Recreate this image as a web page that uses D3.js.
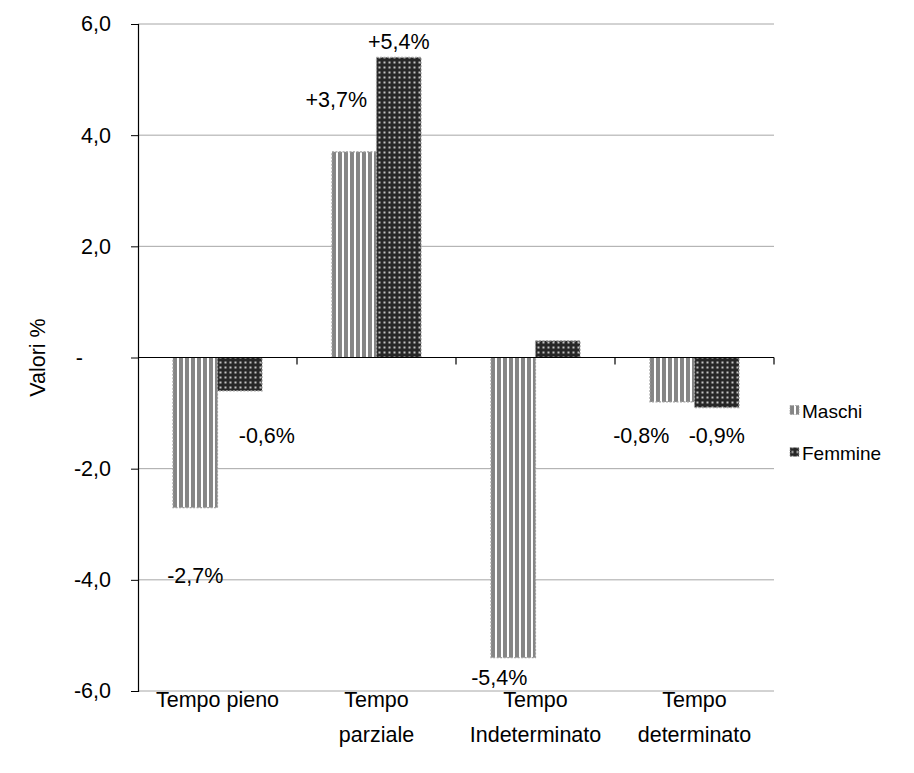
<!DOCTYPE html>
<html>
<head>
<meta charset="utf-8">
<script src="https://cdn.jsdelivr.net/npm/d3@7"></script>
<style>
  html, body { margin: 0; padding: 0; background: #fff; }
  svg { display: block; font-family: "Liberation Sans", Arial, sans-serif; }
</style>
</head>
<body>
<svg id="chart" width="914" height="773"></svg>
<script>
// Variazione percentuale degli occupati per tipo di contratto e sesso
const categories = [["Tempo pieno"], ["Tempo", "parziale"], ["Tempo", "Indeterminato"], ["Tempo", "determinato"]];
const seriesNames = ["Maschi", "Femmine"];
const maschi = [-2.7, 3.7, -5.4, -0.8];
const femmine = [-0.6, 5.4, 0.3, -0.9];
// Etichette mostrate sulle barre (null = nessuna etichetta)
const labelsMaschi = ["-2,7%", "+3,7%", "-5,4%", "-0,8%"];
const labelsFemmine = ["-0,6%", "+5,4%", null, "-0,9%"];
const yTicks = [-6, -4, -2, 0, 2, 4, 6];
const yTickLabels = ["-6,0", "-4,0", "-2,0", "-", "2,0", "4,0", "6,0"];

const FONT = 21.5;
const svg = d3.select("#chart");
const margin = { left: 138, right: 140, top: 24, bottom: 82 };
const W = 914, H = 773;

const x = d3.scaleBand()
  .domain(d3.range(categories.length))
  .range([margin.left, W - margin.right])
  .paddingInner(0.44).paddingOuter(0.22);
const xs = d3.scaleBand().domain(seriesNames).range([0, x.bandwidth()]);
const y = d3.scaleLinear().domain([-6, 6]).range([H - margin.bottom, margin.top]);

// Motivi di riempimento
const defs = svg.append("defs");
const stripes = defs.append("pattern").attr("id", "pat-maschi")
  .attr("patternUnits", "userSpaceOnUse").attr("width", 6).attr("height", 6);
stripes.append("rect").attr("width", 6).attr("height", 6).attr("fill", "#ffffff");
stripes.append("rect").attr("x", 0).attr("width", 4).attr("height", 6).attr("fill", "#858585");

const dots = defs.append("pattern").attr("id", "pat-femmine")
  .attr("patternUnits", "userSpaceOnUse").attr("width", 5).attr("height", 5);
dots.append("rect").attr("width", 5).attr("height", 5).attr("fill", "#262626");
dots.append("rect").attr("x", 1.5).attr("y", 1.5).attr("width", 2).attr("height", 2).attr("fill", "#c4c4c4");

const fills = { Maschi: "url(#pat-maschi)", Femmine: "url(#pat-femmine)" };

// Griglia orizzontale
svg.append("g").selectAll("line").data(yTicks.filter(d => d !== 0)).join("line")
  .attr("x1", margin.left).attr("x2", W - margin.right)
  .attr("y1", d => y(d)).attr("y2", d => y(d))
  .attr("stroke", "#a6a6a6").attr("stroke-width", 1);

// Barre
const rows = categories.map((c, i) => ({ i, values: [
  { key: "Maschi", v: maschi[i], label: labelsMaschi[i] },
  { key: "Femmine", v: femmine[i], label: labelsFemmine[i] }
] }));

const groups = svg.append("g").selectAll("g").data(rows).join("g")
  .attr("transform", d => `translate(${x(d.i)},0)`);

groups.selectAll("rect").data(d => d.values).join("rect")
  .attr("x", d => xs(d.key))
  .attr("y", d => y(Math.max(0, d.v)))
  .attr("width", xs.bandwidth())
  .attr("height", d => Math.abs(y(d.v) - y(0)))
  .attr("fill", d => fills[d.key])
  .attr("stroke", "#a0a0a0").attr("stroke-width", 1.2)
  .attr("stroke-dasharray", "2,1.5");

// Asse Y
const yAxis = d3.axisLeft(y).tickValues(yTicks)
  .tickFormat((d, i) => yTickLabels[i]).tickSize(7).tickPadding(20);
const gy = svg.append("g").attr("transform", `translate(${margin.left},0)`).call(yAxis);
gy.select(".domain").attr("stroke", "#000").attr("stroke-width", 1.2);
gy.selectAll(".tick line").attr("stroke", "#000");
gy.selectAll(".tick text").attr("font-size", FONT).attr("fill", "#000")
  .attr("font-family", "Liberation Sans, Arial, sans-serif")
  .attr("dx", d => d === 0 ? -28 : 0);

// Linea dello zero con tacche tra le categorie
const y0 = y(0);
svg.append("line").attr("x1", margin.left).attr("x2", W - margin.right)
  .attr("y1", y0).attr("y2", y0).attr("stroke", "#000").attr("stroke-width", 1.2);
const boundaries = d3.range(1, categories.length + 1).map(k => margin.left + k * (W - margin.left - margin.right) / categories.length);
svg.append("g").selectAll("line").data(boundaries).join("line")
  .attr("x1", d => d).attr("x2", d => d)
  .attr("y1", y0).attr("y2", y0 + 7)
  .attr("stroke", "#000").attr("stroke-width", 1.2);

// Etichette delle categorie
const centers = d3.range(categories.length).map(i => x(i) + x.bandwidth() / 2);
svg.append("g").selectAll("text").data(categories).join("text")
  .attr("x", (d, i) => centers[i]).attr("y", H - margin.bottom + 16)
  .attr("text-anchor", "middle").attr("font-size", FONT).attr("fill", "#000")
  .selectAll("tspan").data(d => d).join("tspan")
  .attr("x", function () { return d3.select(this.parentNode).attr("x"); })
  .attr("dy", (d, j) => j === 0 ? 0 : 35)
  .text(d => d);

// Titolo asse Y
svg.append("text")
  .attr("transform", `translate(${45},${y0}) rotate(-90)`)
  .attr("text-anchor", "middle").attr("font-size", FONT).attr("fill", "#000")
  .text("Valori %");

// Etichette dei valori
const labelPlacement = {
  "0-Maschi": "below", "0-Femmine": "belowRight",
  "1-Maschi": "left", "1-Femmine": "above",
  "2-Maschi": "below",
  "3-Maschi": "below", "3-Femmine": "below"
};
const labelData = [];
rows.forEach(r => r.values.forEach(v => {
  if (v.label) labelData.push({ ...v, i: r.i, cx: x(r.i) + xs(v.key) + xs.bandwidth() / 2 });
}));
svg.append("g").selectAll("text").data(labelData).join("text")
  .attr("font-size", FONT).attr("fill", "#000")
  .each(function (d) {
    const p = labelPlacement[`${d.i}-${d.key}`];
    const t = d3.select(this).text(d.label);
    if (p === "above") {
      t.attr("x", d.cx).attr("y", y(d.v) - 8).attr("text-anchor", "middle");
    } else if (p === "left") {
      t.attr("x", d.cx - 18).attr("y", y(d.v) - 45).attr("text-anchor", "middle");
    } else if (p === "belowRight") {
      t.attr("x", d.cx - 1).attr("y", y(-1.54)).attr("text-anchor", "start");
    } else if (d.i === 0) {
      t.attr("x", d.cx).attr("y", y(d.v) + 75).attr("text-anchor", "middle");
    } else if (d.i === 2) {
      t.attr("x", d.cx - 14).attr("y", y(d.v) + 27).attr("text-anchor", "middle");
    } else {
      t.attr("x", d.cx + (d.key === "Maschi" ? -31 : 0)).attr("y", y(-1.54)).attr("text-anchor", "middle");
    }
  });

// Legenda
const legend = svg.append("g").attr("transform", `translate(790, ${y0 + 60})`);
seriesNames.forEach((name, k) => {
  const g = legend.append("g").attr("transform", `translate(0, ${k * 42})`);
  g.append("rect").attr("x", 0).attr("y", -12).attr("width", 9).attr("height", 9)
    .attr("fill", fills[name]).attr("stroke", "#a0a0a0").attr("stroke-width", 0.8)
    .attr("stroke-dasharray", "1.5,1");
  g.append("text").attr("x", 12).attr("y", 0).attr("font-size", 19).attr("fill", "#000")
    .text(name);
});
</script>
</body>
</html>
